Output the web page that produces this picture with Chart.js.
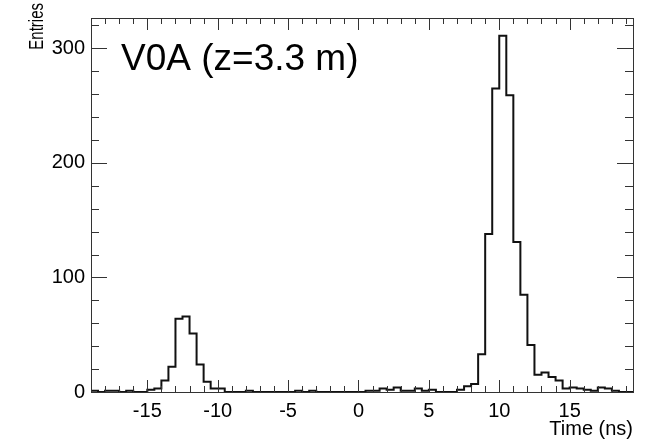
<!DOCTYPE html>
<html>
<head>
<meta charset="UTF-8">
<title>V0A time</title>
<style>
body { margin:0; padding:0; background:#fff; }
#chart { display:block; }
</style>
</head>
<body>
<canvas id="chart" width="645" height="441"></canvas>
<script src="https://cdn.jsdelivr.net/npm/chart.js"></script>
<script>
// histogram: 0.5 ns bins from -19 to 19.5 ns
const binStart = -19;
const binWidth = 0.5;
const counts = [
  0, 1, 0, 1, 1, 0, 1, 0, 0, 2,
  3, 10, 22, 64, 66, 51, 24, 9, 3, 3,
  0, 0, 0, 1, 0, 0, 0, 0, 0, 0,
  1, 0, 1, 0, 0, 0, 0, 0, 0, 0,
  1, 1, 3, 2, 4, 1, 1, 3, 1, 2,
  0, 0, 0, 2, 5, 7, 33, 138, 265, 311,
  259, 131, 85, 41, 15, 17, 13, 10, 3, 4,
  3, 2, 1, 4, 3, 1, 0
];
const xTicks = [-15, -10, -5, 0, 5, 10, 15];
const yTicks = [0, 100, 200, 300];
const xMin = -19, xMax = 19.5;
const yMax = 326.5;

const FONT = 'Liberation Sans, Arial, Helvetica, sans-serif';

// bin edges -> step points
const pts = counts.map((c, i) => ({x: binStart + i * binWidth, y: c}));
pts.push({x: binStart + counts.length * binWidth, y: counts[counts.length - 1]});

// ROOT-like frame with inner ticks on all four sides, plus texts
const framePlugin = {
  id: 'frame',
  afterDraw(chart) {
    const {ctx, chartArea: a, scales: {x, y}} = chart;
    ctx.save();
    ctx.strokeStyle = '#333';
    ctx.lineWidth = 1;
    ctx.beginPath();
    for (let v = Math.ceil(xMin); v <= xMax; v++) {
      const px = Math.round(x.getPixelForValue(v)) + 0.5;
      const len = v % 5 === 0 ? 12 : 6;
      ctx.moveTo(px, a.bottom); ctx.lineTo(px, a.bottom - len);
      ctx.moveTo(px, a.top); ctx.lineTo(px, a.top + len);
    }
    for (let v = 0; v <= yMax; v += 20) {
      const py = Math.round(y.getPixelForValue(v)) + 0.5;
      const len = v % 100 === 0 ? 16 : 8;
      ctx.moveTo(a.left, py); ctx.lineTo(a.left + len, py);
      ctx.moveTo(a.right, py); ctx.lineTo(a.right - len, py);
    }
    ctx.stroke();
    ctx.strokeRect(Math.round(a.left) + 0.5, Math.round(a.top) + 0.5,
      Math.round(a.right - a.left), Math.round(a.bottom - a.top));

    ctx.fillStyle = '#000';
    ctx.textBaseline = 'alphabetic';
    ctx.font = '37px ' + FONT;
    ctx.fillText('V0A (z=3.3 m)', 121, 70);

    // y axis title (rotated, top aligned)
    ctx.font = '20px ' + FONT;
    ctx.translate(43, 3);
    ctx.rotate(-Math.PI / 2);
    ctx.scale(0.75, 1);
    ctx.textAlign = 'right';
    ctx.fillText('Entries', 0, 0);
    ctx.restore();
  }
};

new Chart(document.getElementById('chart'), {
  type: 'line',
  data: {
    datasets: [{
      data: pts,
      stepped: 'after',
      borderColor: '#111',
      borderWidth: 2,
      pointRadius: 0,
      fill: false
    }]
  },
  options: {
    responsive: false,
    animation: false,
    layout: { padding: { top: 7, right: 12, left: 0, bottom: 0 } },
    plugins: { legend: { display: false }, tooltip: { enabled: false } },
    scales: {
      x: {
        type: 'linear',
        min: xMin, max: xMax,
        grid: { display: false, drawTicks: false },
        border: { display: false },
        afterBuildTicks(s) { s.ticks = xTicks.map(v => ({value: v})); },
        afterFit(s) { s.height = 49; },
        ticks: { color: '#000', padding: 7, font: { family: FONT, size: 20 } },
        title: { display: true, text: 'Time (ns)', align: 'end', color: '#000',
          padding: 0, font: { family: FONT, size: 20 } }
      },
      y: {
        min: 0, max: yMax,
        grid: { display: false, drawTicks: false },
        border: { display: false },
        afterBuildTicks(s) { s.ticks = yTicks.map(v => ({value: v})); },
        afterFit(s) { s.width = 91; },
        ticks: { color: '#000', padding: 6, font: { family: FONT, size: 20 } }
      }
    }
  },
  plugins: [framePlugin]
});
</script>
</body>
</html>
